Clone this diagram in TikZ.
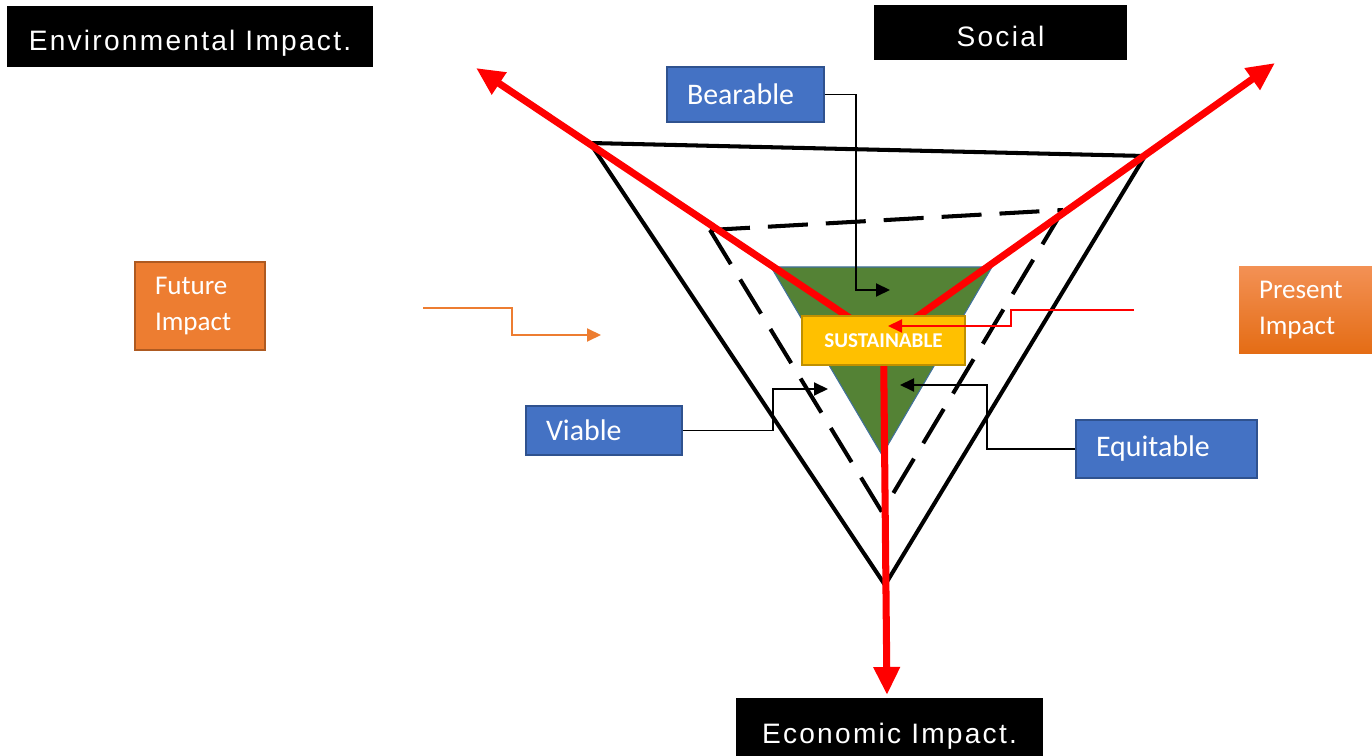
\documentclass[tikz,border=0pt]{standalone}
\usepackage{fontspec}
\setmainfont{Carlito}
\newfontfamily\headfont[LetterSpace=8]{Liberation Sans}
\usepackage{xcolor}
\usetikzlibrary{arrows.meta,calc}
\definecolor{boxblue}{RGB}{68,114,196}
\definecolor{boxblueline}{RGB}{47,82,143}
\definecolor{boxorange}{RGB}{237,125,49}
\definecolor{boxorangeline}{RGB}{174,90,33}
\definecolor{gold}{RGB}{255,192,0}
\definecolor{goldline}{RGB}{191,144,0}
\definecolor{leaf}{RGB}{84,130,53}
\definecolor{leafline}{RGB}{65,113,156}
\definecolor{presenttop}{RGB}{243,145,85}
\definecolor{presentbot}{RGB}{228,108,20}

\begin{document}
\begin{tikzpicture}[x=0.02cm, y=-0.02cm,
  headbox/.style={rectangle, fill=black, text=white, text height=16pt, text depth=0pt, font=\headfont\fontsize{16}{19}\selectfont},
  pillar/.style={rectangle, draw=boxblueline, line width=1pt, fill=boxblue, text=white, inner xsep=0.4cm, align=left, font=\fontsize{17}{20}\selectfont},
  timebox/.style={rectangle, text=white, inner xsep=0.4cm, align=left, font=\fontsize{15.4}{20}\selectfont},
  frame/.style={line width=2.3pt},
  dashframe/.style={line width=2.3pt, dash pattern=on 0.8cm off 0.36cm},
  axis/.style={red, line width=4pt, -{Triangle[length=0.56cm,width=0.5cm]}},
  conn/.style={line width=1.1pt, -{Triangle[length=0.28cm,width=0.26cm]}}]
\useasboundingbox (0,0) rectangle (1372,756);

% corners of the two frames
\coordinate (A) at (590,143);
\coordinate (B) at (1145,156);
\coordinate (C) at (885,585);
\coordinate (D) at (710,230);
\coordinate (E) at (1063,210);
\coordinate (F) at (882,512);

\draw[frame] (A) -- (B) -- (C) -- cycle;
\draw[dashframe] (D) -- (E);
\draw[dashframe] (D) -- (F);
\draw[dashframe] (E) -- (F);

\fill[leaf, draw=leafline, line width=0.6pt] (771,267) -- (992,267) -- (882,455) -- cycle;

% tips of the three axes
\coordinate (envT) at (476,68);
\coordinate (socT) at (1275,63);
\coordinate (ecoT) at (887,695);
\coordinate (hub) at (883.5,340.5);

\draw[axis] (hub) -- (envT);
\draw[axis] (hub) -- (socT);
\draw[axis] (hub) -- (ecoT);

\node[rectangle, draw=goldline, line width=1pt, fill=gold, text=white, minimum width=3.26cm, minimum height=0.98cm, font=\bfseries\fontsize{12}{14}\selectfont] (sus) at (hub) {SUSTAINABLE};

\node[headbox, minimum width=7.32cm, minimum height=1.22cm] (env) at (190,36.5) {Environmental Impact.};
\node[headbox, minimum width=5.06cm, minimum height=1.1cm] (soc) at (1000.5,32.5) {Social};
\node[headbox, minimum width=6.14cm, minimum height=1.25cm] (eco) at (889.5,729) {Economic Impact.};

\node[pillar, text width=2.34cm, minimum height=1.1cm] (bear) at (745.5,94.5) {Bearable};
\node[pillar, text width=2.32cm, minimum height=0.98cm] (viab) at (604,430.5) {Viable};
\node[pillar, text width=2.82cm, minimum height=1.16cm] (equi) at (1166.5,449) {Equitable};

\node[timebox, draw=boxorangeline, line width=1pt, fill=boxorange, text width=1.8cm, minimum height=1.76cm] (fut) at (200,306) {Future\\Impact};
\node[timebox, top color=presenttop, bottom color=presentbot, text width=1.86cm, minimum height=1.76cm] (pres) at (1305.5,310) {Present\\Impact};

% connectors
\coordinate (bearT) at (890,290);
\coordinate (viabT) at (828,389);
\coordinate (equiT) at (900,385);
\coordinate (presS) at (1134,310);
\coordinate (presT) at (888,326);
\coordinate (futS) at (423,308);
\coordinate (futT) at (601,335);

\draw[conn] (bear.east) -- ++(31,0) |- (bearT);
\draw[conn] (viab.east) -- ++(90,0) |- (viabT);
\draw[conn] (equi.west) -- ++(-88,0) |- (equiT);
\draw[conn, red] (presS) -- ++(-123,0) |- (presT);
\draw[conn, boxorange] (futS) -- ++(89,0) |- (futT);
\end{tikzpicture}
\end{document}
